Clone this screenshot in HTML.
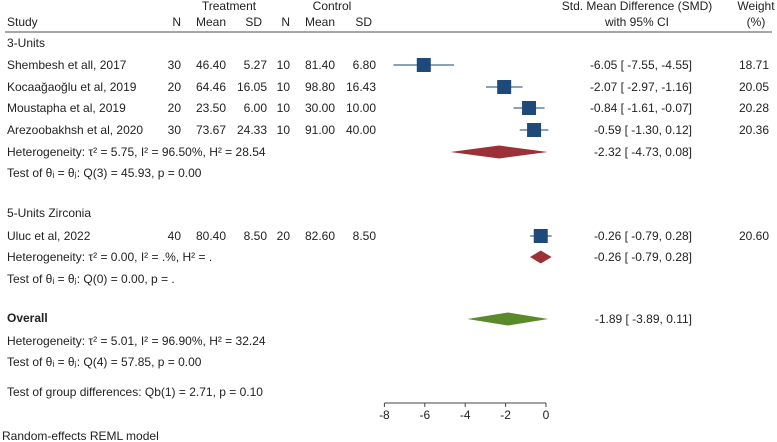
<!DOCTYPE html>
<html><head><meta charset="utf-8"><style>
html,body{margin:0;padding:0;background:#fff;width:777px;height:442px;overflow:hidden}
svg text{font-family:"Liberation Sans",Arial,sans-serif;font-size:12px;fill:#222}
</style></head><body>
<svg id="fp" width="777" height="442" xmlns="http://www.w3.org/2000/svg">
<g>
<text x="229" y="10" text-anchor="middle">Treatment</text>
<text x="332" y="10" text-anchor="middle">Control</text>
<text x="7" y="26">Study</text>
<text x="181" y="26" text-anchor="end">N</text>
<text x="226" y="26" text-anchor="end">Mean</text>
<text x="262" y="26" text-anchor="end">SD</text>
<text x="290" y="26" text-anchor="end">N</text>
<text x="335" y="26" text-anchor="end">Mean</text>
<text x="372" y="26" text-anchor="end">SD</text>
<text x="637" y="10" text-anchor="middle">Std. Mean Difference (SMD)</text>
<text x="637" y="26" text-anchor="middle">with 95% CI</text>
<text x="756" y="10" text-anchor="middle">Weight</text>
<text x="756" y="26" text-anchor="middle">(%)</text>
<line x1="5" y1="32" x2="772" y2="32" stroke="#888" stroke-width="1.5"/>
</g>
<g id="rows"></g>
<g id="marks"></g>
<g id="axis"></g>
<text x="2" y="440">Random-effects REML model</text>
</svg>
<script>
const studies=["Shembesh et all, 2017","Kocaağaoğlu et al,  2019","Moustapha  et al, 2019","Arezoobakhsh et al, 2020","Uluc et al, 2022"];
const tN=[30,20,20,30,40];
const tMean=["46.40","64.46","23.50","73.67","80.40"];
const tSD=["5.27","16.05","6.00","24.33","8.50"];
const cN=[10,10,10,10,20];
const cMean=["81.40","98.80","30.00","91.00","82.60"];
const cSD=["6.80","16.43","10.00","40.00","8.50"];
const smd=[-6.05,-2.07,-0.84,-0.59,-0.26];
const lo=[-7.55,-2.97,-1.61,-1.30,-0.79];
const hi=[-4.55,-1.16,-0.07,0.12,0.28];
const weight=["18.71","20.05","20.28","20.36","20.60"];
const studyY=[65,87,108,130,236];
const pooledLabels=["3-Units subtotal","5-Units subtotal","Overall"];
const pooledEst=[-2.32,-0.26,-1.89];
const pooledLo=[-4.73,-0.79,-3.89];
const pooledHi=[0.08,0.28,0.11];
const pooledY=[152,257,319];
const pooledColor=["#9b3038","#9b3038","#5a8a2a"];
const ticks=[-8,-6,-4,-2,0];
const texts=[["3-Units",7,47],["Heterogeneity: τ² = 5.75, I² = 96.50%, H² = 28.54",7,156],["Test of θᵢ = θⱼ: Q(3) = 45.93, p = 0.00",7,177],
["5-Units Zirconia",7,217],["Heterogeneity: τ² = 0.00, I² = .%, H² = .",7,261],["Test of θᵢ = θⱼ: Q(0) = 0.00, p = .",7,283],
["Overall",7,322,"bold"],["Heterogeneity: τ² = 5.01, I² = 96.90%, H² = 32.24",7,345],["Test of θᵢ = θⱼ: Q(4) = 57.85, p = 0.00",7,366],
["Test of group differences: Qb(1) = 2.71, p = 0.10",7,396]];
const NS="http://www.w3.org/2000/svg";
const x=v=>546+v*20.2;
function T(parent,s,xx,yy,anchor,weight){const t=document.createElementNS(NS,"text");t.setAttribute("x",xx);t.setAttribute("y",yy);if(anchor)t.setAttribute("text-anchor",anchor);if(weight)t.setAttribute("font-weight",weight);t.textContent=s;parent.appendChild(t);return t;}
const rows=document.getElementById("rows"),marks=document.getElementById("marks"),ax=document.getElementById("axis");
texts.forEach(a=>{const t=T(rows,a[0],a[1],a[2],null,a[3]);

});
const fmt=v=>(v<0?"-":" ")+Math.abs(v).toFixed(2);
studies.forEach((s,i)=>{const y=studyY[i];
const g=document.createElementNS(NS,"g");


rows.appendChild(g);
T(g,s,7,y+4);T(g,tN[i],181,y+4,"end");T(g,tMean[i],226,y+4,"end");T(g,tSD[i],267,y+4,"end");
T(g,cN[i],290,y+4,"end");T(g,cMean[i],335,y+4,"end");T(g,cSD[i],376,y+4,"end");
T(g,fmt(smd[i])+" [ "+fmt(lo[i])+",  "+fmt(hi[i])+"]",692,y+4,"end");T(g,weight[i],769,y+4,"end");
const l=document.createElementNS(NS,"line");l.setAttribute("x1",x(lo[i]));l.setAttribute("x2",x(hi[i]));l.setAttribute("y1",y);l.setAttribute("y2",y);l.setAttribute("stroke","#3d6a94");l.setAttribute("stroke-width","1.3");


marks.appendChild(l);
const r=document.createElementNS(NS,"rect");const sz=14;r.setAttribute("x",x(smd[i])-sz/2);r.setAttribute("y",y-sz/2);r.setAttribute("width",sz);r.setAttribute("height",sz);r.setAttribute("fill","#1d4a78");


marks.appendChild(r);});
pooledEst.forEach((e,i)=>{const y=pooledY[i];
T(rows,fmt(e)+" [ "+fmt(pooledLo[i])+",  "+fmt(pooledHi[i])+"]",692,y+4,"end");
const p=document.createElementNS(NS,"polygon");
p.setAttribute("points",`${x(pooledLo[i])},${y} ${x(e)},${y-6.5} ${x(pooledHi[i])},${y} ${x(e)},${y+6.5}`);
p.setAttribute("fill",pooledColor[i]);


marks.appendChild(p);});
const al=document.createElementNS(NS,"line");al.setAttribute("x1",x(ticks[0]));al.setAttribute("x2",x(ticks[ticks.length-1]));al.setAttribute("y1",403);al.setAttribute("y2",403);al.setAttribute("stroke","#444");


ax.appendChild(al);
ticks.forEach(t=>{const l=document.createElementNS(NS,"line");l.setAttribute("x1",x(t));l.setAttribute("x2",x(t));l.setAttribute("y1",403);l.setAttribute("y2",407);l.setAttribute("stroke","#444");


ax.appendChild(l);
const tx=T(ax,t,x(t),419,"middle");

});
</script>
</body></html>
